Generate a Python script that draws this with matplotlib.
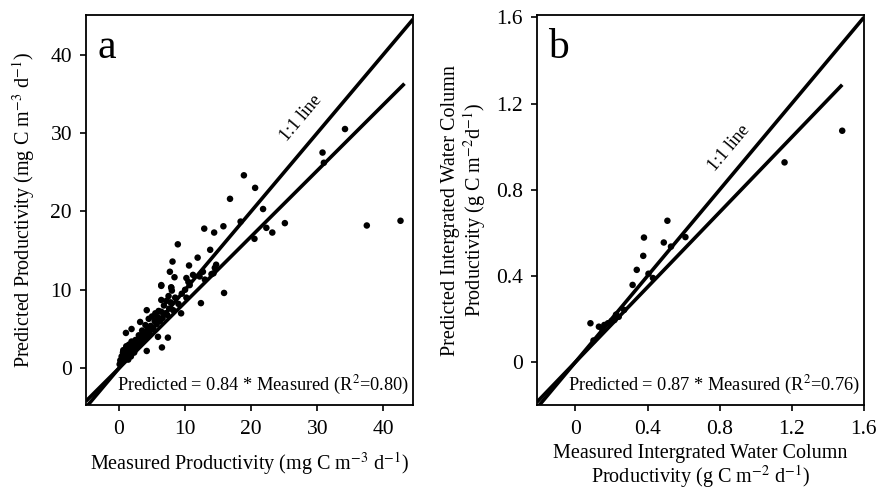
import numpy as np
import matplotlib.pyplot as plt

plt.rcParams['font.family'] = ['Liberation Serif', 'DejaVu Serif']
plt.rcParams['mathtext.fontset'] = 'stix'

# panel a: measured vs predicted productivity (mg C m-3 d-1)
meas_a = [0.1, 0.2, 0.3, 0.4, 0.5, 0.6, 0.7, 0.8, 0.9, 1.0, 1.1, 1.2, 1.3, 1.4,
          1.5, 1.6, 1.7, 1.8, 1.9, 2.0, 2.2, 2.3, 2.5, 2.6, 2.8, 3.0, 3.1, 3.3,
          3.5, 3.6, 3.8, 4.0, 4.1, 4.3, 4.5, 4.6, 4.8, 5.0, 5.2, 5.4, 5.5, 5.7,
          5.9, 6.0, 6.2, 6.4, 6.6, 6.8, 7.0, 7.2, 7.3, 7.5, 7.6, 7.8, 8.0, 8.2,
          8.5, 9.0, 9.5, 10.0, 10.2, 10.5,
          0.65, 1.05, 1.9, 3.2, 4.2, 4.2, 5.9, 6.4, 6.4, 6.5, 7.4, 7.9, 9.4,
          6.4, 7.7, 7.9, 8.1, 8.4, 8.9, 10.2, 10.6, 10.7, 11.2, 11.9, 12.2,
          12.4, 12.7, 13.0, 13.8, 14.0, 14.3, 14.5, 14.7, 12.9, 14.4, 15.8,
          15.9, 16.8, 18.4, 18.9, 20.5, 20.6, 21.8, 22.3, 23.2, 25.1, 30.8,
          31.0, 34.2, 37.5, 42.6]
pred_a = [0.5, 1.0, 0.8, 1.5, 1.2, 2.0, 1.0, 1.8, 2.3, 1.4, 2.8, 1.6, 2.2, 1.1,
          3.0, 2.0, 2.6, 1.5, 3.4, 2.4, 2.9, 2.0, 3.6, 2.7, 3.2, 4.2, 3.0, 3.8,
          4.8, 3.5, 4.4, 5.5, 4.0, 4.9, 6.3, 4.5, 5.4, 6.6, 5.0, 6.0, 7.0, 5.6,
          6.5, 7.3, 6.0, 7.2, 6.4, 8.0, 7.0, 8.6, 6.8, 9.2, 7.6, 8.4, 9.9, 7.4,
          9.0, 8.2, 9.5, 10.0, 9.0, 11.0,
          2.3, 4.5, 5.0, 5.9, 7.4, 2.2, 4.0, 8.7, 10.6, 2.65, 3.9, 10.3, 7.0,
          10.5, 12.3, 10.3, 13.6, 11.6, 15.8, 11.5, 13.1, 10.6, 11.9, 14.1, 11.7,
          8.3, 12.3, 11.3, 15.1, 12.0, 12.1, 12.8, 13.2, 17.8, 17.3, 18.1,
          9.6, 21.6, 18.7, 24.6, 16.5, 23.0, 20.3, 17.9, 17.3, 18.5, 27.5,
          26.2, 30.5, 18.2, 18.8]

# panel b: integrated water column productivity (g C m-2 d-1)
meas_b = [0.083, 0.10, 0.13, 0.15, 0.16, 0.18, 0.20, 0.216, 0.225, 0.24, 0.27,
          0.317, 0.34, 0.376, 0.38, 0.405, 0.43, 0.49, 0.51, 0.53, 0.61, 1.16, 1.48]
pred_b = [0.18, 0.10, 0.164, 0.15, 0.172, 0.18, 0.19, 0.195, 0.22, 0.21, 0.242,
          0.358, 0.428, 0.493, 0.578, 0.41, 0.39, 0.555, 0.656, 0.536, 0.58, 0.927, 1.074]

slope_a, r2_a = 0.84, 0.80
slope_b, r2_b = 0.87, 0.76


def draw_panel(ax, x, y, slope, r2, lim_x, lim_y, fit_end, ticks, ticklabels, letter, oneone_xy):
    ax.plot(lim_x, lim_x, color='black', lw=2.6, solid_capstyle='butt')
    fx = np.array([lim_x[0], fit_end])
    ax.plot(fx, slope * fx, color='black', lw=2.6, solid_capstyle='butt')
    ax.scatter(x, y, s=22, color='black', edgecolors='none', zorder=3)
    ax.set_xlim(lim_x)
    ax.set_ylim(lim_y)
    ax.set_xticks(ticks)
    ax.set_xticklabels(ticklabels)
    ax.set_yticks(ticks)
    ax.set_yticklabels(ticklabels)
    ax.tick_params(direction='out', length=4, width=1.2, labelsize=15.5)
    ax.tick_params(axis='x', pad=7)
    ax.tick_params(axis='y', pad=6)
    for sp in ax.spines.values():
        sp.set_linewidth(1.3)
    ax.text(0.035, 0.965, letter, transform=ax.transAxes, fontsize=30, va='top', ha='left')
    ax.text(0.99, 0.02, f'Predicted = {slope:.2f} * Measured (R$^2$={r2:.2f})',
            transform=ax.transAxes, fontsize=13.2, ha='right', va='bottom')
    ax.text(oneone_xy[0], oneone_xy[1], '1:1 line', fontsize=13, rotation=50,
            rotation_mode='anchor', ha='center', va='center')


fig = plt.figure(figsize=(8.77, 4.94), dpi=100)
ax1 = fig.add_axes([0.098, 0.180, 0.373, 0.789])
ax2 = fig.add_axes([0.612, 0.180, 0.373, 0.789])

draw_panel(ax1, meas_a, pred_a, slope_a, r2_a, [-5, 44.5], [-4.7, 45], 43.2,
           [0, 10, 20, 30, 40], ['0', '10', '20', '30', '40'], 'a', (27.5, 31.9))
draw_panel(ax2, meas_b, pred_b, slope_b, r2_b, [-0.215, 1.6], [-0.2, 1.61], 1.48,
           [0, 0.4, 0.8, 1.2, 1.6], ['0', '0.4', '0.8', '1.2', '1.6'], 'b', (0.852, 0.995))

ax1.set_xlabel('Measured Productivity (mg C m$^{-3}$ d$^{-1}$)', fontsize=14.5, labelpad=8)
ax1.set_ylabel('Predicted Productivity (mg C m$^{-3}$ d$^{-1}$)', fontsize=14.5, labelpad=10)
ax2.set_xlabel('Measured Intergrated Water Column\nProductivity (g C m$^{-2}$ d$^{-1}$)',
               fontsize=14.5, labelpad=3, linespacing=1.05)
ax2.set_ylabel('Predicted Intergrated Water Column\nProductivity (g C m$^{-2}$d$^{-1}$)',
               fontsize=14.5, labelpad=6, linespacing=1.05)

fig.savefig('out.png', dpi=100)
